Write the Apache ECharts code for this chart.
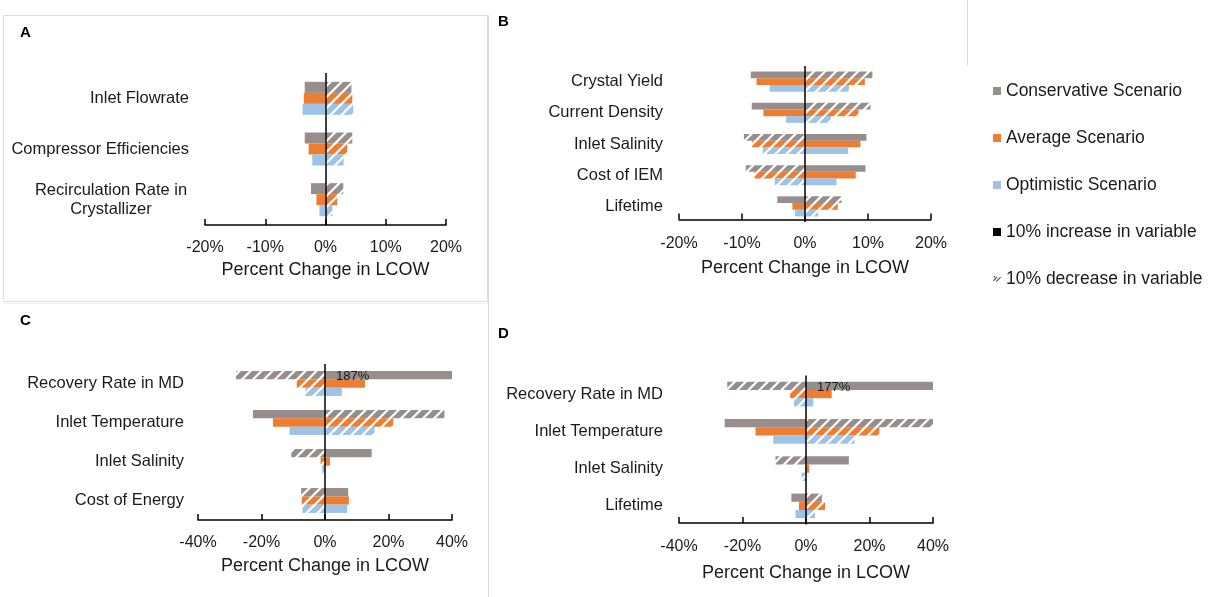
<!DOCTYPE html>
<html>
<head>
<meta charset="utf-8">
<script src="https://cdn.jsdelivr.net/npm/echarts@6/dist/echarts.min.js"></script>
<style>
  html, body { margin: 0; padding: 0; background: #ffffff; }
  #chart { width: 1211px; height: 597px; }
</style>
</head>
<body>
<div id="chart"></div>
<script>
// Scenario names and colours
const scenarioNames = ['Conservative Scenario', 'Average Scenario', 'Optimistic Scenario'];
const increaseLabel = '10% increase in variable';
const decreaseLabel = '10% decrease in variable';
const scenarioColors = ['#968D8D', '#ED7D31', '#9DC3E6'];

// Panel A – percent change in LCOW
const catsA = ['Inlet Flowrate', 'Compressor Efficiencies', 'Recirculation Rate in\nCrystallizer'];
const consIncA = [-3.45, -3.45, -2.4];
const consDecA = [4.3, 4.45, 2.95];
const avgIncA = [-3.6, -2.8, -1.5];
const avgDecA = [4.45, 3.6, 1.95];
const optIncA = [-3.8, -2.2, -1.0];
const optDecA = [4.6, 3.0, 1.15];
const ticksA = { min: -20, max: 20, interval: 10 };

// Panel B
const catsB = ['Crystal Yield', 'Current Density', 'Inlet Salinity', 'Cost of IEM', 'Lifetime'];
const consIncB = [-8.6, -8.45, 9.75, 9.6, -4.4];
const consDecB = [10.7, 10.4, -9.7, -9.4, 5.8];
const avgIncB = [-7.7, -6.6, 8.8, 8.05, -2.0];
const avgDecB = [9.5, 8.5, -8.4, -8.0, 5.2];
const optIncB = [-5.6, -3.0, 6.85, 5.0, -1.6];
const optDecB = [7.0, 4.15, -6.7, -4.8, 2.1];
const ticksB = { min: -20, max: 20, interval: 10 };

// Panel C
const catsC = ['Recovery Rate in MD', 'Inlet Temperature', 'Inlet Salinity', 'Cost of Energy'];
const consIncC = [187, -22.7, 14.7, 7.3];
const consDecC = [-28, 37.6, -10.6, -7.5];
const avgIncC = [12.6, -16.4, 1.6, 7.5];
const avgDecC = [-8.9, 21.5, -1.4, -7.3];
const optIncC = [5.3, -11.2, 0.1, 7.0];
const optDecC = [-6.2, 15.6, -0.9, -7.1];
const ticksC = { min: -40, max: 40, interval: 20 };

// Panel D
const catsD = ['Recovery Rate in MD', 'Inlet Temperature', 'Inlet Salinity', 'Lifetime'];
const consIncD = [177, -25.6, 13.5, -4.6];
const consDecD = [-24.8, 40, -9.6, 5.0];
const avgIncD = [8.1, -15.9, 1.0, -2.2];
const avgDecD = [-5.0, 23.1, -0.2, 6.0];
const optIncD = [2.3, -10.3, 0.3, -3.3];
const optDecD = [-3.8, 15.3, -1.4, 2.8];
const ticksD = { min: -40, max: 40, interval: 20 };

// Values beyond the axis range carry a printed value label
const labelThreshold = 40;

const FONT = '"Liberation Sans", Arial, Helvetica, sans-serif';
const TEXT = '#1a1a1a';

// Diagonal "/" stripes on white, used for the decrease bars
function hatch(color) {
  const s = 11;
  const c = document.createElement('canvas');
  c.width = s; c.height = s;
  const g = c.getContext('2d');
  g.fillStyle = '#ffffff';
  g.fillRect(0, 0, s, s);
  g.strokeStyle = color;
  g.lineWidth = 5.6;
  g.beginPath();
  [0, s, 2 * s].forEach(k => {
    g.moveTo(k - s - 2, s + 2);
    g.lineTo(k + 2, -2);
  });
  g.stroke();
  return { image: c, repeat: 'repeat' };
}

const panels = [
  { cats: catsA, inc: [consIncA, avgIncA, optIncA], dec: [consDecA, avgDecA, optDecA], ticks: ticksA,
    grid: { left: 205, top: 73, width: 241, height: 152 }, barWidth: 11, nameGap: 36, labelMargin: 16,
    axisOffset: 0, tickMargin: 15 },
  { cats: catsB, inc: [consIncB, avgIncB, optIncB], dec: [consDecB, avgDecB, optDecB], ticks: ticksB,
    grid: { left: 679, top: 66, width: 252, height: 156 }, barWidth: 6.7, nameGap: 40, labelMargin: 16,
    axisOffset: -2.5, tickMargin: 16 },
  { cats: catsC, inc: [consIncC, avgIncC, optIncC], dec: [consDecC, avgDecC, optDecC], ticks: ticksC,
    grid: { left: 198, top: 364, width: 254, height: 156 }, barWidth: 8.3, nameGap: 37, labelMargin: 14,
    axisOffset: 0, tickMargin: 15 },
  { cats: catsD, inc: [consIncD, avgIncD, optIncD], dec: [consDecD, avgDecD, optDecD], ticks: ticksD,
    grid: { left: 679, top: 375.5, width: 254, height: 149 }, barWidth: 8.2, nameGap: 41, labelMargin: 16,
    axisOffset: -1.5, tickMargin: 16 }
];

const grids = [], xAxes = [], yAxes = [], series = [];

panels.forEach((p, i) => {
  grids.push(Object.assign({ containLabel: false }, p.grid));
  xAxes.push({
    type: 'value', gridIndex: i, offset: p.axisOffset,
    min: p.ticks.min, max: p.ticks.max, interval: p.ticks.interval,
    name: 'Percent Change in LCOW', nameLocation: 'middle', nameGap: p.nameGap,
    nameTextStyle: { fontSize: 18, color: TEXT, fontFamily: FONT },
    axisLine: { show: true, onZero: false, lineStyle: { color: '#000', width: 1.5 } },
    axisTick: { show: true, inside: true, length: 6, lineStyle: { color: '#000', width: 1.5 } },
    axisLabel: { formatter: '{value}%', fontSize: 16, color: TEXT, fontFamily: FONT, margin: p.tickMargin },
    splitLine: { show: false }
  });
  yAxes.push({
    type: 'category', gridIndex: i, data: p.cats, inverse: true,
    axisLine: { show: false, onZero: false }, axisTick: { show: false },
    axisLabel: {
      fontSize: 16.5, color: TEXT, fontFamily: FONT, margin: p.labelMargin, lineHeight: 19,
      formatter: v => v.indexOf('\n') >= 0 ? v.split('\n').map(s => '{ctr|' + s + '}').join('\n') : v,
      rich: { ctr: { width: 156, align: 'center', fontSize: 16.5, fontFamily: FONT, color: TEXT, lineHeight: 19 } }
    }
  });

  scenarioNames.forEach((name, s) => {
    const stack = 'p' + i + 's' + s;
    series.push({
      type: 'bar', name: name, xAxisIndex: i, yAxisIndex: i, stack: stack,
      barWidth: p.barWidth, barGap: '0%',
      itemStyle: { color: scenarioColors[s] },
      data: p.inc[s].map(v => v > labelThreshold ? {
        value: v,
        label: {
          show: true, position: 'insideLeft', distance: 11, offset: [0, 1],
          formatter: '{c}%', fontSize: 13, color: TEXT, fontFamily: FONT
        }
      } : v),
      animation: false
    });
    const dec = {
      type: 'bar', name: name, xAxisIndex: i, yAxisIndex: i, stack: stack,
      barWidth: p.barWidth, barGap: '0%',
      itemStyle: { color: hatch(scenarioColors[s]) },
      data: p.dec[s],
      animation: false
    };
    if (s === scenarioNames.length - 1) {
      // vertical zero line drawn above the bars
      dec.markLine = {
        silent: true, symbol: ['none', 'none'], animation: false,
        label: { show: false },
        lineStyle: { color: '#000', width: 1.5, type: 'solid' },
        data: [{ xAxis: 0 }]
      };
    }
    series.push(dec);
  });
});

// Key entries for the bar styles
series.push({ type: 'bar', name: increaseLabel, xAxisIndex: 0, yAxisIndex: 0, stack: 'p0s0',
  itemStyle: { color: '#000' }, data: [], animation: false });
series.push({ type: 'bar', name: decreaseLabel, xAxisIndex: 0, yAxisIndex: 0, stack: 'p0s0',
  itemStyle: { color: hatch('#555') }, data: [], animation: false });

const letterStyle = { fontSize: 15, fontWeight: 'bold', fill: '#000', fontFamily: FONT };
const frame = { stroke: '#dcdcdc', lineWidth: 1 };

const option = {
  backgroundColor: '#ffffff',
  animation: false,
  grid: grids,
  xAxis: xAxes,
  yAxis: yAxes,
  series: series,
  legend: {
    orient: 'vertical', left: 988, top: 76,
    itemWidth: 8, itemHeight: 8, itemGap: 27, itemTextGap: 6,
    icon: 'rect',
    textStyle: { fontSize: 17.5, color: TEXT, fontFamily: FONT, lineHeight: 20 },
    data: [
      scenarioNames[0], scenarioNames[1], scenarioNames[2],
      { name: increaseLabel, itemStyle: { color: '#000' } },
      { name: decreaseLabel, icon: 'path://M0,9 L5,4 L6,5 L1,10 Z M4,10 L10,4 L11,5 L5,11 Z M1,3 L3,3 L3,5 L1,5 Z',
        itemStyle: { color: '#444' } }
    ]
  },
  graphic: [
    { type: 'rect', shape: { x: 3.5, y: 15.5, width: 484, height: 286 }, style: { fill: 'none', stroke: frame.stroke, lineWidth: 1 }, silent: true },
    { type: 'line', shape: { x1: 488.5, y1: 15, x2: 488.5, y2: 597 }, style: frame, silent: true },
    { type: 'line', shape: { x1: 967.5, y1: 0, x2: 967.5, y2: 66 }, style: frame, silent: true },
    { type: 'line', shape: { x1: 3, y1: 303.5, x2: 488, y2: 303.5 }, style: { stroke: '#efefef', lineWidth: 1 }, silent: true },
    { type: 'text', left: 20, top: 25, style: Object.assign({ text: 'A' }, letterStyle) },
    { type: 'text', left: 498, top: 14, style: Object.assign({ text: 'B' }, letterStyle) },
    { type: 'text', left: 20, top: 313, style: Object.assign({ text: 'C' }, letterStyle) },
    { type: 'text', left: 498, top: 326, style: Object.assign({ text: 'D' }, letterStyle) }
  ]
};

const chart = echarts.init(document.getElementById('chart'), null, { renderer: 'canvas' });
chart.setOption(option);
</script>
</body>
</html>
